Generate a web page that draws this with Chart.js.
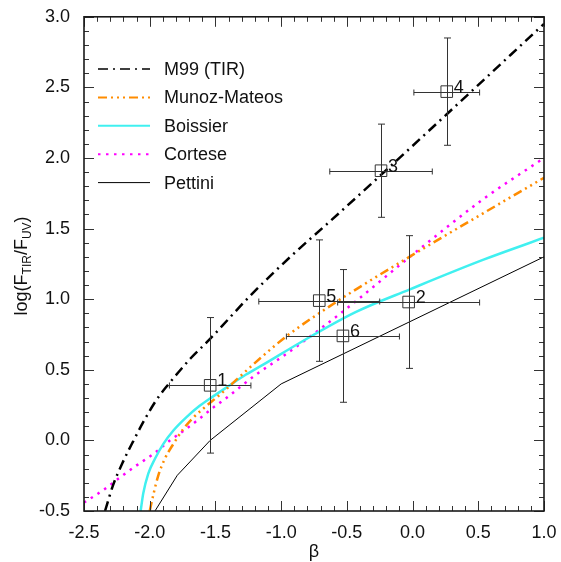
<!DOCTYPE html>
<html>
<head>
<meta charset="utf-8">
<script src="https://cdn.jsdelivr.net/npm/chart.js@4.4.0/dist/chart.umd.min.js"></script>
<style>
  html, body { margin: 0; padding: 0; background: #fff; }
  #wrap { width: 561px; height: 562px; }
</style>
</head>
<body>
<div id="wrap"><canvas id="irxBeta" width="561" height="562"></canvas></div>
<script>
// tick labels
const xTicks = [-2.5, -2.0, -1.5, -1.0, -0.5, 0.0, 0.5, 1.0];
const yTicks = [-0.5, 0.0, 0.5, 1.0, 1.5, 2.0, 2.5, 3.0];

// observed regions (beta, log TIR/UV, errors)
const obsNames = ['1', '2', '3', '4', '5', '6'];
const obsBeta = [-1.54, -0.03, -0.24, 0.26, -0.71, -0.53];
const obsLog = [0.39, 0.98, 1.91, 2.47, 0.99, 0.74];
const obsBetaErr = [0.31, 0.54, 0.39, 0.25, 0.46, 0.43];
const obsLogErr = [0.48, 0.47, 0.33, 0.38, 0.43, 0.47];

// model curves
const m99Beta = [-2.34, -2.28, -2.20, -2.125, -2.04, -1.95, -1.86, -1.77, -1.69, -1.55, -1.24, -0.93, -0.63, -0.24, 0.26, 1.0];
const m99Log = [-0.5, -0.32, -0.145, -0.005, 0.145, 0.285, 0.395, 0.495, 0.58, 0.71, 1.02, 1.30, 1.55, 1.88, 2.31, 2.95];

const munozBeta = [-2.0, -1.97, -1.935, -1.885, -1.82, -1.745, -1.67, -1.58, -1.49, -1.415, -1.34, -1.155, -0.953, -0.565, -0.43, 0.03, 0.54, 1.0];
const munozLog = [-0.5, -0.375, -0.25, -0.13, -0.025, 0.08, 0.16, 0.235, 0.305, 0.365, 0.43, 0.585, 0.742, 0.99, 1.07, 1.33, 1.61, 1.86];

const boissierBeta = [-2.069, -2.049, -2.011, -1.96, -1.896, -1.82, -1.72, -1.62, -1.52, -1.40, -1.27, -1.13, -0.86, -0.43, -0.02, 0.54, 1.0];
const boissierLog = [-0.5, -0.375, -0.235, -0.13, -0.025, 0.07, 0.165, 0.245, 0.31, 0.385, 0.465, 0.54, 0.69, 0.91, 1.07, 1.28, 1.435];

const corteseBeta = [-2.5, -2.35, -2.23, -2.10, -1.97, -1.85, -1.74, -1.64, -1.52, -1.41, -1.2, -0.98, -0.73, -0.48, -0.02, 0.54, 1.0];
const corteseLog = [-0.44, -0.35, -0.265, -0.177, -0.095, -0.003, 0.07, 0.14, 0.23, 0.305, 0.46, 0.60, 0.77, 0.95, 1.30, 1.71, 2.0];

const pettiniBeta = [-1.96, -1.79, -1.54, -1.0, 1.0];
const pettiniLog = [-0.5, -0.247, 0.0, 0.40, 1.30];

const FONT = '"Liberation Sans", Arial, Helvetica, sans-serif';
const pts = (xs, ys) => xs.map((x, i) => ({ x, y: ys[i] }));

function curve(label, xs, ys, color, width, dash, smooth, legendWidth) {
  return {
    label,
    data: pts(xs, ys),
    showLine: true,
    borderColor: color,
    backgroundColor: color,
    borderWidth: width,
    borderDash: dash,
    pointRadius: 0,
    cubicInterpolationMode: smooth ? 'monotone' : 'default',
    tension: 0,
    inLegend: true,
    legendWidth
  };
}

const frameTicks = {
  id: 'frameTicks',
  afterDraw(chart) {
    const { ctx, chartArea: a, scales: { x, y } } = chart;
    ctx.save();
    ctx.strokeStyle = '#333';
    ctx.lineWidth = 1;
    ctx.beginPath();
    for (let i = 0; i <= 35; i++) {
      const v = -2.5 + i * 0.1;
      const px = Math.round(x.getPixelForValue(v)) + 0.5;
      const len = i % 5 === 0 ? 10 : 5;
      ctx.moveTo(px, a.bottom); ctx.lineTo(px, a.bottom - len);
      ctx.moveTo(px, a.top); ctx.lineTo(px, a.top + len);
      const py = Math.round(y.getPixelForValue(-0.5 + i * 0.1)) + 0.5;
      ctx.moveTo(a.left, py); ctx.lineTo(a.left + len, py);
      ctx.moveTo(a.right, py); ctx.lineTo(a.right - len, py);
    }
    ctx.stroke();
    ctx.strokeStyle = '#1a1a1a';
    ctx.lineWidth = 1.6;
    ctx.strokeRect(a.left, a.top, a.right - a.left, a.bottom - a.top);
    ctx.restore();
  }
};

const errorBars = {
  id: 'errorBars',
  afterDatasetsDraw(chart) {
    const { ctx, scales: { x, y } } = chart;
    ctx.save();
    ctx.strokeStyle = '#333';
    ctx.lineWidth = 1;
    ctx.beginPath();
    obsBeta.forEach((b, i) => {
      const cx = Math.round(x.getPixelForValue(b)) + 0.5;
      const cy = Math.round(y.getPixelForValue(obsLog[i])) + 0.5;
      const x0 = x.getPixelForValue(b - obsBetaErr[i]);
      const x1 = x.getPixelForValue(b + obsBetaErr[i]);
      const y0 = y.getPixelForValue(obsLog[i] - obsLogErr[i]);
      const y1 = y.getPixelForValue(obsLog[i] + obsLogErr[i]);
      ctx.moveTo(x0, cy); ctx.lineTo(x1, cy);
      ctx.moveTo(x0, cy - 3); ctx.lineTo(x0, cy + 3);
      ctx.moveTo(x1, cy - 3); ctx.lineTo(x1, cy + 3);
      ctx.moveTo(cx, y0); ctx.lineTo(cx, y1);
      ctx.moveTo(cx - 3.5, y0); ctx.lineTo(cx + 3.5, y0);
      ctx.moveTo(cx - 3.5, y1); ctx.lineTo(cx + 3.5, y1);
    });
    ctx.stroke();
    ctx.fillStyle = '#111';
    ctx.font = '18px ' + FONT;
    ctx.textBaseline = 'alphabetic';
    obsBeta.forEach((b, i) => {
      ctx.fillText(obsNames[i], x.getPixelForValue(b) + 7, y.getPixelForValue(obsLog[i]) + 1);
    });
    ctx.restore();
  }
};

const legendBox = {
  id: 'legendBox',
  afterDraw(chart) {
    const { ctx } = chart;
    ctx.save();
    ctx.font = '18px ' + FONT;
    ctx.textBaseline = 'middle';
    let row = 0;
    chart.data.datasets.forEach(ds => {
      if (!ds.inLegend) return;
      const ly = 69 + row * 28.4;
      ctx.strokeStyle = ds.borderColor;
      ctx.lineWidth = ds.legendWidth;
      ctx.setLineDash(ds.borderDash || []);
      ctx.beginPath();
      ctx.moveTo(98, ly); ctx.lineTo(150, ly);
      ctx.stroke();
      ctx.setLineDash([]);
      ctx.fillStyle = '#111';
      ctx.fillText(ds.label, 164, ly + 1);
      row++;
    });
    ctx.restore();
  }
};

const axisTitles = {
  id: 'axisTitles',
  afterDraw(chart) {
    const { ctx, chartArea: a } = chart;
    ctx.save();
    ctx.fillStyle = '#111';
    ctx.font = '18px ' + FONT;
    ctx.textAlign = 'center';
    ctx.textBaseline = 'alphabetic';
    ctx.fillText('β', (a.left + a.right) / 2, 557);

    const parts = [['log(F', 0], ['TIR', 1], ['/F', 0], ['UV', 1], [')', 0]];
    const big = '18px ' + FONT, small = '12px ' + FONT;
    let total = 0;
    parts.forEach(([t, s]) => { ctx.font = s ? small : big; total += ctx.measureText(t).width; });
    ctx.translate(27, (a.top + a.bottom) / 2 + 2);
    ctx.rotate(-Math.PI / 2);
    ctx.textAlign = 'left';
    let pos = -total / 2;
    parts.forEach(([t, s]) => {
      ctx.font = s ? small : big;
      ctx.fillText(t, pos, s ? 3.5 : 0);
      pos += ctx.measureText(t).width;
    });
    ctx.restore();
  }
};

const tickFont = { family: FONT, size: 18 };

new Chart(document.getElementById('irxBeta').getContext('2d'), {
  type: 'scatter',
  data: {
    datasets: [
      {
        label: 'regions',
        data: pts(obsBeta, obsLog),
        pointStyle: 'rect',
        pointRadius: 8.2,
        borderColor: '#333',
        borderWidth: 1,
        backgroundColor: 'rgba(0,0,0,0)',
        showLine: false
      },
      curve('M99 (TIR)', m99Beta, m99Log, '#000', 2.5, [10, 5, 2, 5], true, 1.3),
      curve('Munoz-Mateos', munozBeta, munozLog, '#ff8c00', 2.5, [9, 4, 2, 4, 2, 4, 2, 4], true, 2),
      curve('Boissier', boissierBeta, boissierLog, '#40f0f0', 2.5, [], true, 2),
      curve('Cortese', corteseBeta, corteseLog, '#ff00ff', 2.5, [2.5, 5.5], true, 2),
      curve('Pettini', pettiniBeta, pettiniLog, '#000', 1, [], false, 1)
    ]
  },
  options: {
    responsive: false,
    animation: false,
    layout: { padding: { top: 13, right: 17, left: 0, bottom: 0 } },
    plugins: { legend: { display: false }, tooltip: { enabled: false } },
    scales: {
      x: {
        type: 'linear',
        min: -2.5,
        max: 1.0,
        afterBuildTicks: s => { s.ticks = xTicks.map(v => ({ value: v })); },
        afterFit: s => { s.height = 51; },
        grid: { display: false },
        border: { display: false },
        ticks: { font: tickFont, color: '#111', padding: 3, maxRotation: 0, autoSkip: false, callback: v => v.toFixed(1) }
      },
      y: {
        type: 'linear',
        min: -0.5,
        max: 3.0,
        afterBuildTicks: s => { s.ticks = yTicks.map(v => ({ value: v })); },
        afterFit: s => { s.width = 84; },
        grid: { display: false },
        border: { display: false },
        ticks: { font: tickFont, color: '#111', padding: 6, autoSkip: false, callback: v => v.toFixed(1) }
      }
    }
  },
  plugins: [frameTicks, errorBars, legendBox, axisTitles]
});
</script>
</body>
</html>
